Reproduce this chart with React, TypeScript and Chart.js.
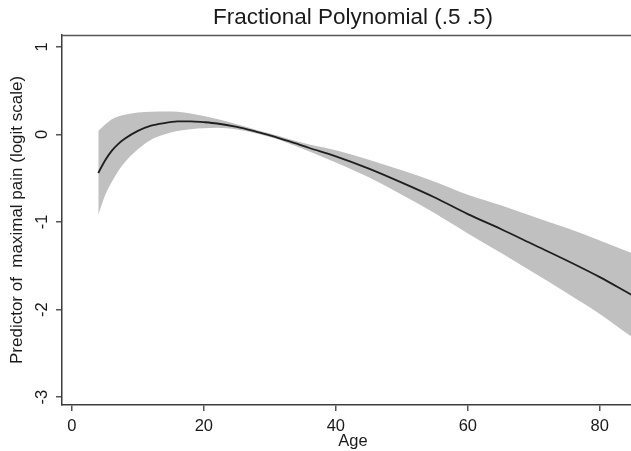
import React, { useEffect, useRef } from "react";
import { Chart, registerables } from "chart.js";

Chart.register(...registerables);

const titleText = "Fractional Polynomial (.5 .5)";
const xTitle = "Age";
const yTitle = "Predictor of  maximal pain (logit scale)";

const ages = [4, 5, 6, 7, 8, 10, 12, 14, 16, 18, 20, 22, 25, 28, 30, 33, 36, 40, 45, 50, 55, 60, 65, 70, 75, 80, 85, 87];
const fitValues = [-0.44, -0.3, -0.19, -0.11, -0.05, 0.04, 0.1, 0.13, 0.148, 0.15, 0.14, 0.125, 0.085, 0.03, -0.01, -0.08, -0.155, -0.25, -0.39, -0.55, -0.72, -0.91, -1.08, -1.26, -1.44, -1.63, -1.84, -1.92];
const upperValues = [0.04, 0.11, 0.17, 0.205, 0.225, 0.25, 0.26, 0.262, 0.258, 0.24, 0.21, 0.175, 0.115, 0.05, 0.01, -0.055, -0.115, -0.18, -0.29, -0.41, -0.54, -0.69, -0.81, -0.94, -1.07, -1.21, -1.36, -1.42];
const lowerValues = [-0.92, -0.7, -0.55, -0.42, -0.32, -0.17, -0.06, 0.0, 0.038, 0.06, 0.07, 0.075, 0.055, 0.01, -0.03, -0.105, -0.195, -0.32, -0.49, -0.69, -0.9, -1.13, -1.35, -1.58, -1.81, -2.05, -2.32, -2.42];

const xTicks = [0, 20, 40, 60, 80];
const yTicks = [-3, -2, -1, 0, 1];
const xMin = -1.5;
const xMax = 86.7;
const yMin = -3.09;
const yMax = 1.137;

const FONT = "'Liberation Sans', Arial, Helvetica, sans-serif";
const AXIS = "#3c3c3c";

const topBorder = {
  id: "topBorder",
  afterDraw(chart: any) {
    const { ctx, chartArea } = chart;
    ctx.save();
    ctx.strokeStyle = "#555555";
    ctx.lineWidth = 1.5;
    ctx.beginPath();
    ctx.moveTo(chartArea.left, chartArea.top + 0.5);
    ctx.lineTo(chartArea.right, chartArea.top + 0.5);
    ctx.stroke();
    ctx.restore();
  },
};

export default function App() {
  const ref = useRef<HTMLCanvasElement | null>(null);

  useEffect(() => {
    if (!ref.current) return;
    const toPts = (vals: number[]) => ages.map((a, i) => ({ x: a, y: vals[i] }));
    const chart = new Chart(ref.current, {
      type: "line",
      data: {
        datasets: [
          {
            label: "fit",
            data: toPts(fitValues),
            borderColor: "#1e1e1e",
            borderWidth: 1.8,
            pointRadius: 0,
            fill: false,
            cubicInterpolationMode: "monotone",
          },
          {
            label: "upper",
            data: toPts(upperValues),
            borderWidth: 0,
            borderColor: "rgba(0,0,0,0)",
            backgroundColor: "#c0c0c0",
            pointRadius: 0,
            fill: "+1",
            cubicInterpolationMode: "monotone",
          },
          {
            label: "lower",
            data: toPts(lowerValues),
            borderWidth: 0,
            borderColor: "rgba(0,0,0,0)",
            pointRadius: 0,
            fill: false,
            cubicInterpolationMode: "monotone",
          },
        ],
      },
      options: {
        responsive: false,
        animation: false,
        events: [],
        layout: { padding: 0 },
        plugins: {
          legend: { display: false },
          tooltip: { enabled: false },
          title: {
            display: true,
            text: titleText,
            color: "#1a1a1a",
            font: { family: FONT, size: 22.5, weight: "normal", lineHeight: 1.15 },
            padding: { top: 5, bottom: 4 },
            fullSize: false,
          },
        },
        scales: {
          x: {
            type: "linear",
            min: xMin,
            max: xMax,
            afterBuildTicks: (scale: any) => {
              scale.ticks = xTicks.map((v) => ({ value: v }));
            },
            afterFit: (scale: any) => {
              scale.height = 46;
            },
            grid: { drawOnChartArea: false, drawTicks: true, tickLength: 6, color: "#555555", lineWidth: 1.5 },
            border: { display: true, color: AXIS, width: 1.5 },
            ticks: {
              color: "#1a1a1a",
              font: { family: FONT, size: 16.5 },
              padding: 6,
              maxRotation: 0,
              minRotation: 0,
              autoSkip: false,
            },
            title: {
              display: true,
              text: xTitle,
              color: "#1a1a1a",
              font: { family: FONT, size: 16.5 },
              padding: { top: 0, bottom: 0 },
            },
          },
          y: {
            type: "linear",
            min: yMin,
            max: yMax,
            afterBuildTicks: (scale: any) => {
              scale.ticks = yTicks.map((v) => ({ value: v }));
            },
            afterFit: (scale: any) => {
              scale.width = 62;
            },
            grid: { drawOnChartArea: false, drawTicks: true, tickLength: 6, color: "#555555", lineWidth: 1.5 },
            border: { display: true, color: AXIS, width: 1.5 },
            ticks: {
              color: "#1a1a1a",
              font: { family: FONT, size: 16.5 },
              padding: 6,
              minRotation: 90,
              maxRotation: 90,
              crossAlign: "center",
              autoSkip: false,
            },
            title: {
              display: true,
              text: yTitle,
              color: "#1a1a1a",
              font: { family: FONT, size: 17 },
              padding: { top: 7, bottom: 0 },
            },
          },
        },
      },
      plugins: [topBorder],
    } as any);
    return () => chart.destroy();
  }, []);

  return (
    <div style={{ position: "fixed", left: 0, top: 0, width: 631, height: 451, overflow: "hidden", background: "#fff" }}>
      <canvas ref={ref} width={644} height={451} style={{ width: 644, height: 451, display: "block" }} />
    </div>
  );
}
